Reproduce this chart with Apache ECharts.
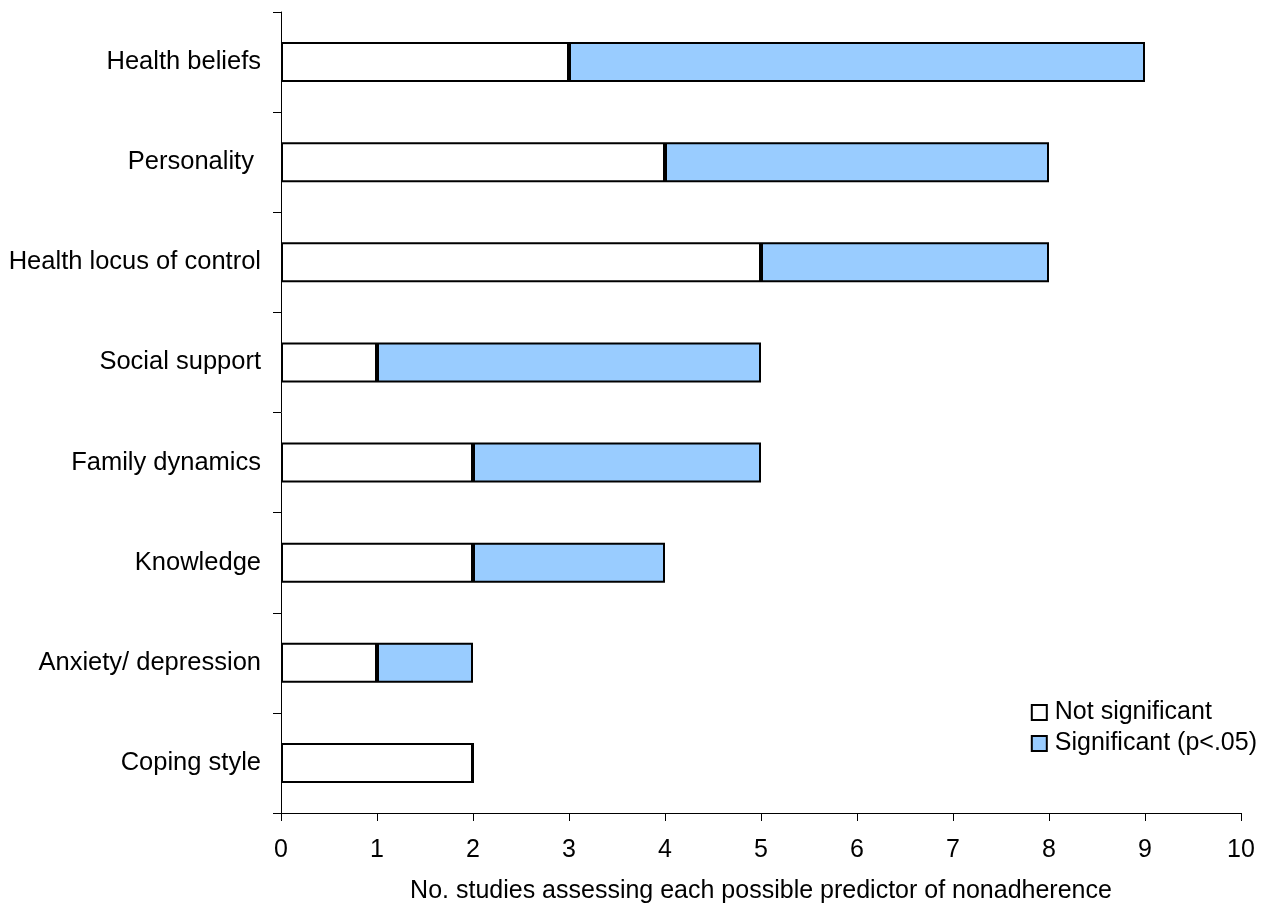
<!DOCTYPE html>
<html><head><meta charset="utf-8">
<script src="https://cdn.jsdelivr.net/npm/echarts@6/dist/echarts.min.js"></script>
<style>html,body{margin:0;padding:0;background:#fff}#c{width:1262px;height:909px}</style>
</head><body><div id="c"></div>
<script>
const categories = ["Health beliefs","Personality ","Health locus of control","Social support","Family dynamics","Knowledge","Anxiety/ depression","Coping style"];
const notSignificant = [3,4,5,1,2,2,1,2];
const significant = [6,4,3,4,3,2,1,0];
const xTicks = [0,1,2,3,4,5,6,7,8,9,10];
const xAxisTitle = "No. studies assessing each possible predictor of nonadherence";

const chart = echarts.init(document.getElementById('c'), null, {renderer:'canvas'});
const font = "'Liberation Sans', Arial, sans-serif";
const fs = 25;
chart.setOption({
  animation:false,
  textStyle:{fontFamily:font,color:'#000'},
  grid:{left:281,right:21,top:12,bottom:92,containLabel:false},
  legend:{
    orient:'vertical', right:0, top:695,
    itemWidth:15, itemHeight:15, itemGap:6,
    textStyle:{fontFamily:font,fontSize:fs,color:'#000',padding:[0,0,0,3]},
    data:['Not significant','Significant (p<.05)'],
    icon:'rect'
  },
  xAxis:{
    type:'value', min:xTicks[0], max:xTicks[xTicks.length-1], interval:1,
    splitLine:{show:false},
    axisLine:{show:true,lineStyle:{color:'#000',width:1}},
    axisTick:{show:true,length:8,lineStyle:{color:'#000'}},
    axisLabel:{fontFamily:font,fontSize:fs,color:'#000',margin:25},
    name:xAxisTitle, nameLocation:'middle', nameGap:66,
    nameTextStyle:{fontFamily:font,fontSize:fs,color:'#000'}
  },
  yAxis:{
    type:'category', data:categories, inverse:true,
    axisLine:{show:true,lineStyle:{color:'#000',width:1}},
    axisTick:{show:true,length:8,lineStyle:{color:'#000'}},
    axisLabel:{fontFamily:font,fontSize:25.5,color:'#000',margin:20}
  },
  series:[
    {name:'Not significant',type:'bar',stack:'s',data:notSignificant,barWidth:'40%',
     itemStyle:{color:'#ffffff',borderColor:'#000',borderWidth:2}},
    {name:'Significant (p<.05)',type:'bar',stack:'s',data:significant,barWidth:'40%',
     itemStyle:{color:'#99ccff',borderColor:'#000',borderWidth:2}}
  ]
});
</script></body></html>
